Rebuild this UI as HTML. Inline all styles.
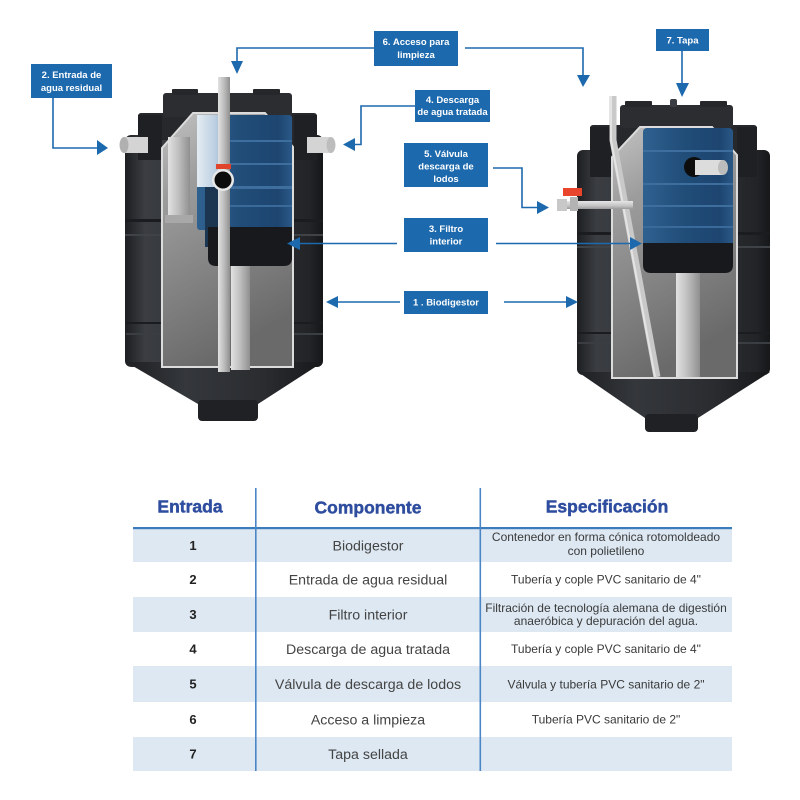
<!DOCTYPE html>
<html><head><meta charset="utf-8"><style>
html,body{margin:0;padding:0;background:#fff;}
svg{display:block;}
.lb{font-family:"Liberation Sans",sans-serif;font-weight:bold;font-size:9.5px;fill:#fff;text-anchor:middle;}
.hd{font-family:"Liberation Sans",sans-serif;font-weight:bold;font-size:17.5px;fill:#2e4d9f;stroke:#2e4d9f;stroke-width:0.45;text-anchor:middle;}
.num{font-family:"Liberation Sans",sans-serif;font-weight:bold;font-size:13px;fill:#222;text-anchor:middle;}
.cmp{font-family:"Liberation Sans",sans-serif;font-size:14.2px;fill:#444;text-anchor:middle;}
.spc{font-family:"Liberation Sans",sans-serif;font-size:12px;fill:#3a3a3a;text-anchor:middle;}
</style></head><body>
<svg width="800" height="800" viewBox="0 0 800 800" xmlns="http://www.w3.org/2000/svg">
<defs>
<linearGradient id="bodyG" x1="0" y1="0" x2="1" y2="0">
<stop offset="0" stop-color="#1d1f22"/><stop offset="0.1" stop-color="#3a3d41"/><stop offset="0.4" stop-color="#33363a"/><stop offset="0.75" stop-color="#2a2c30"/><stop offset="0.93" stop-color="#222427"/><stop offset="1" stop-color="#161719"/>
</linearGradient>
<linearGradient id="coneG" x1="0" y1="0" x2="1" y2="0">
<stop offset="0" stop-color="#1e2023"/><stop offset="0.3" stop-color="#34373b"/><stop offset="0.7" stop-color="#2a2c30"/><stop offset="1" stop-color="#17181a"/>
</linearGradient>
<linearGradient id="cutG" x1="0" y1="0" x2="0.3" y2="1">
<stop offset="0" stop-color="#c2c2c2"/><stop offset="0.3" stop-color="#9d9d9d"/><stop offset="0.7" stop-color="#808080"/><stop offset="1" stop-color="#6a6a6a"/>
</linearGradient>
<linearGradient id="blueG" x1="0" y1="0" x2="1" y2="0">
<stop offset="0" stop-color="#2f6190"/><stop offset="0.45" stop-color="#214d79"/><stop offset="0.85" stop-color="#1d4570"/><stop offset="1" stop-color="#2a5887"/>
</linearGradient>
<linearGradient id="whiteBlue" x1="0" y1="0" x2="1" y2="0">
<stop offset="0" stop-color="#e4ecf3"/><stop offset="0.6" stop-color="#b9cde0"/><stop offset="1" stop-color="#5d87b0"/>
</linearGradient>
<linearGradient id="pipeG" x1="0" y1="0" x2="1" y2="0">
<stop offset="0" stop-color="#e2e2e2"/><stop offset="0.5" stop-color="#bdbdbd"/><stop offset="1" stop-color="#8f8f8f"/>
</linearGradient>
<linearGradient id="pipeV" x1="0" y1="0" x2="0" y2="1">
<stop offset="0" stop-color="#e6e6e6"/><stop offset="0.6" stop-color="#c4c4c4"/><stop offset="1" stop-color="#9a9a9a"/>
</linearGradient>
</defs>

<!-- ============ LEFT TANK ============ -->
<rect x="125" y="135" width="198" height="232" rx="6" fill="url(#bodyG)"/>
<rect x="125" y="219" width="198" height="3" fill="#1b1c1f"/>
<rect x="125" y="234" width="198" height="2" fill="#3f4246"/>
<rect x="126" y="322" width="197" height="2" fill="#1b1c1f"/>
<rect x="126" y="333" width="197" height="2" fill="#3a3d41"/>
<path d="M126 362 L323 362 L258 404 L198 404 Z" fill="url(#coneG)"/>
<rect x="198" y="400" width="60" height="21" rx="4" fill="#1f2124"/>
<rect x="138" y="113" width="179" height="27" rx="3" fill="#26282b"/>
<rect x="138" y="115" width="24" height="45" fill="#1e2023"/>
<rect x="294" y="115" width="23" height="45" fill="#1e2023"/>
<rect x="163" y="93" width="129" height="24" rx="3" fill="#2b2d31"/>
<rect x="172" y="89" width="26" height="6" rx="1" fill="#25272a"/>
<rect x="253" y="89" width="27" height="6" rx="1" fill="#25272a"/>
<!-- side pipes -->
<rect x="124" y="137" width="24" height="16" fill="#d4d4d4"/>
<ellipse cx="124" cy="145" rx="4.5" ry="8" fill="#b0b0b0"/>
<rect x="307" y="137" width="24" height="16" fill="#d4d4d4"/>
<ellipse cx="331" cy="145" rx="4.5" ry="8" fill="#bdbdbd"/>
<!-- cutaway -->
<polygon points="193,113 265,113 293,147 293,367 162,367 162,148" fill="url(#cutG)" stroke="#dcdcdc" stroke-width="2"/>
<rect x="168" y="137" width="22" height="86" fill="url(#pipeG)"/>
<rect x="165" y="215" width="28" height="8" fill="#a8a8a8"/>
<!-- filter -->
<rect x="197" y="115" width="95" height="115" rx="3" fill="url(#blueG)"/>
<rect x="197" y="115" width="32" height="72" fill="url(#whiteBlue)"/>
<rect x="229" y="140" width="63" height="2" fill="#3d6e9e"/>
<rect x="229" y="163" width="63" height="2" fill="#3d6e9e"/>
<rect x="229" y="186" width="63" height="3" fill="#3d6e9e"/>
<rect x="229" y="205" width="63" height="2" fill="#3a6a9a"/>
<rect x="205" y="187" width="24" height="60" fill="#1c3550"/>
<path d="M208 227 L292 227 L292 258 Q292 266 284 266 L216 266 Q208 266 208 258 Z" fill="#17191c"/>
<rect x="231" y="266" width="19" height="104" fill="url(#pipeG)"/>
<!-- access pipe -->
<rect x="218" y="77" width="12" height="295" fill="url(#pipeG)"/>
<circle cx="223" cy="180" r="11" fill="#e8e8e8"/>
<circle cx="223" cy="180" r="8.5" fill="#0c0c0c"/>
<rect x="216" y="164" width="15" height="5" fill="#e0442a"/>

<!-- ============ RIGHT TANK ============ -->
<rect x="577" y="150" width="193" height="225" rx="6" fill="url(#bodyG)"/>
<rect x="577" y="232" width="193" height="3" fill="#1b1c1f"/>
<rect x="577" y="246" width="193" height="2" fill="#3f4246"/>
<rect x="578" y="332" width="192" height="2" fill="#1b1c1f"/>
<rect x="578" y="342" width="192" height="2" fill="#3a3d41"/>
<path d="M578 372 L770 372 L698 418 L645 418 Z" fill="url(#coneG)"/>
<rect x="645" y="414" width="53" height="18" rx="4" fill="#1f2124"/>
<rect x="590" y="125" width="167" height="30" rx="3" fill="#26282b"/>
<rect x="590" y="127" width="22" height="50" fill="#1e2023"/>
<rect x="737" y="127" width="20" height="50" fill="#1e2023"/>
<rect x="620" y="105" width="113" height="23" rx="3" fill="#2b2d31"/>
<rect x="625" y="101" width="27" height="6" rx="1" fill="#25272a"/>
<rect x="700" y="101" width="27" height="6" rx="1" fill="#25272a"/>
<rect x="670" y="99" width="7" height="8" rx="2" fill="#3a3d41"/>
<!-- cutaway -->
<polygon points="640,127 712,127 737,155 737,378 612,378 612,157" fill="url(#cutG)" stroke="#dcdcdc" stroke-width="2"/>
<!-- diagonal pipe -->
<path d="M613 96 L613 140 L657 377" fill="none" stroke="#c9c9c9" stroke-width="7"/>
<path d="M611 96 L611 140 L655 377" fill="none" stroke="#e4e4e4" stroke-width="2"/>
<!-- filter -->
<rect x="643" y="128" width="90" height="120" rx="4" fill="url(#blueG)"/>
<rect x="643" y="150" width="90" height="2" fill="#3d6e9e"/>
<rect x="643" y="183" width="90" height="2" fill="#3d6e9e"/>
<rect x="643" y="205" width="90" height="2" fill="#3d6e9e"/>
<rect x="643" y="226" width="90" height="2" fill="#3a6a9a"/>
<path d="M643 243 L733 243 L733 265 Q733 273 725 273 L651 273 Q643 273 643 265 Z" fill="#17191c"/>
<circle cx="694" cy="167" r="10" fill="#0d0d0d"/>
<rect x="695" y="160" width="28" height="15" fill="#dcdcdc"/>
<ellipse cx="723" cy="167.5" rx="5" ry="7.5" fill="#bcbcbc"/>
<rect x="676" y="273" width="24" height="104" fill="url(#pipeG)"/>
<!-- valve -->
<rect x="557" y="201" width="76" height="8" fill="url(#pipeV)"/>
<rect x="557" y="199" width="10" height="12" fill="#c8c8c8"/>
<rect x="570" y="197" width="8" height="14" fill="#b3b3b3"/>
<rect x="563" y="188" width="19" height="8" fill="#e8452c"/>

<!-- ============ CALLOUTS ============ -->
<g fill="#1d69ad" stroke="none">
<rect x="31" y="64" width="81" height="34"/>
<rect x="374" y="31" width="84" height="35"/>
<rect x="656" y="29" width="53" height="22"/>
<rect x="415" y="90" width="75" height="32"/>
<rect x="404" y="143" width="84" height="44"/>
<rect x="404" y="218" width="84" height="34"/>
<rect x="404" y="291" width="84" height="23"/>
<polygon points="97,140 108,148 97,155"/>
<polygon points="231,61 243,61 237,74"/>
<polygon points="577,75 590,75 583,87"/>
<polygon points="676,83 689,83 682,97"/>
<polygon points="355,138 343,144.5 355,151"/>
<polygon points="537,201 549,207.5 537,214"/>
<polygon points="300,237 287,243.5 300,250"/>
<polygon points="630,237 642,243.5 630,250"/>
<polygon points="338,296 326,302 338,308"/>
<polygon points="566,296 578,302 566,308"/>
</g>
<g fill="none" stroke="#1d69ad" stroke-width="1.6">
<polyline points="53,98 53,148 98,148"/>
<polyline points="374,48 237,48 237,62"/>
<polyline points="465,48 583,48 583,76"/>
<polyline points="682,51 682,84"/>
<polyline points="415,106 361,106 361,144.5 354,144.5"/>
<polyline points="493,168 522,168 522,207.5 538,207.5"/>
<polyline points="397,243.5 299,243.5"/>
<polyline points="496,243.5 631,243.5"/>
<polyline points="400,302 337,302"/>
<polyline points="504,302 567,302"/>
</g>
<text class="lb" x="71.5" y="78">2. Entrada de</text>
<text class="lb" x="71.5" y="91">agua residual</text>
<text class="lb" x="416" y="45">6. Acceso para</text>
<text class="lb" x="416" y="58">limpieza</text>
<text class="lb" x="682.5" y="43.5">7. Tapa</text>
<text class="lb" x="452.5" y="103">4. Descarga</text>
<text class="lb" x="452.5" y="115">de agua tratada</text>
<text class="lb" x="446" y="157">5. Válvula</text>
<text class="lb" x="446" y="169.5">descarga de</text>
<text class="lb" x="446" y="182">lodos</text>
<text class="lb" x="446" y="232">3. Filtro</text>
<text class="lb" x="446" y="244.5">interior</text>
<text class="lb" x="446" y="305.5">1 . Biodigestor</text>

<!-- ============ TABLE ============ -->
<rect x="133" y="529" width="599" height="33" fill="#dde8f2"/>
<rect x="133" y="597" width="599" height="35" fill="#dde8f2"/>
<rect x="133" y="666" width="599" height="36" fill="#dde8f2"/>
<rect x="133" y="737" width="599" height="34" fill="#dde8f2"/>
<rect x="133" y="527" width="599" height="2.2" fill="#3b7cbd"/>
<rect x="255" y="488" width="1.6" height="283" fill="#4a86c5"/>
<rect x="479.5" y="488" width="1.6" height="283" fill="#4a86c5"/>

<text class="hd" x="190" y="512.5">Entrada</text>
<text class="hd" x="368" y="513.5">Componente</text>
<text class="hd" x="607" y="512.5">Especificación</text>

<text class="num" x="193" y="550">1</text>
<text class="num" x="193" y="584">2</text>
<text class="num" x="193" y="619">3</text>
<text class="num" x="193" y="653.5">4</text>
<text class="num" x="193" y="688.5">5</text>
<text class="num" x="193" y="724">6</text>
<text class="num" x="193" y="758.5">7</text>

<text class="cmp" x="368" y="550.5">Biodigestor</text>
<text class="cmp" x="368" y="584.5">Entrada de agua residual</text>
<text class="cmp" x="368" y="619.5">Filtro interior</text>
<text class="cmp" x="368" y="654">Descarga de agua tratada</text>
<text class="cmp" x="368" y="689">Válvula de descarga de lodos</text>
<text class="cmp" x="368" y="724.5">Acceso a limpieza</text>
<text class="cmp" x="368" y="759">Tapa sellada</text>

<text class="spc" x="606" y="541">Contenedor en forma cónica rotomoldeado</text>
<text class="spc" x="606" y="555">con polietileno</text>
<text class="spc" x="606" y="583.5">Tubería y cople PVC sanitario de 4"</text>
<text class="spc" x="606" y="612">Filtración de tecnología alemana de digestión</text>
<text class="spc" x="606" y="625">anaeróbica y depuración del agua.</text>
<text class="spc" x="606" y="653">Tubería y cople PVC sanitario de 4"</text>
<text class="spc" x="606" y="688.5">Válvula y tubería PVC sanitario de 2"</text>
<text class="spc" x="606" y="723.5">Tubería PVC sanitario de 2"</text>
</svg>
</body></html>
